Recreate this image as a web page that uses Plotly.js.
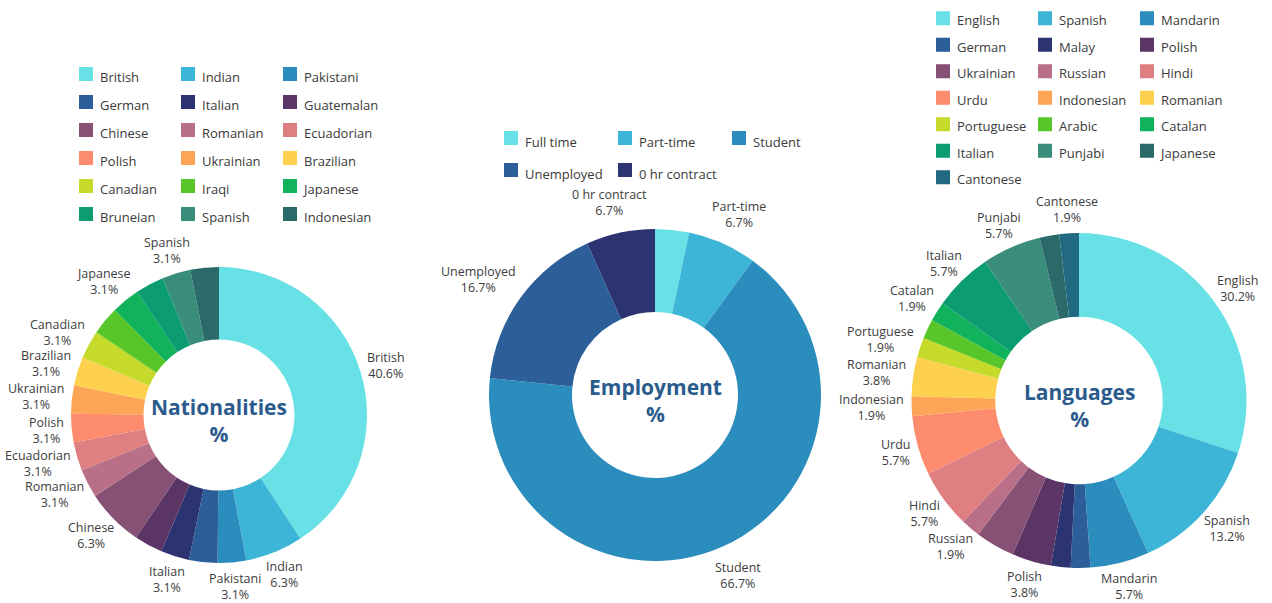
<!DOCTYPE html>
<html><head><meta charset="utf-8">
<script src="https://cdn.plot.ly/plotly-3.0.1.min.js"></script>
<style>
html,body{margin:0;padding:0;background:#fff;overflow:hidden;width:1272px;height:603px;}
.chart{position:absolute;top:0;height:603px;}
.legendpie{transform:translate(26px,0px) scale(1.17);}
</style></head><body>
<div id="nat" class="chart"></div>
<div id="emp" class="chart"></div>
<div id="lang" class="chart"></div>
<script>
// ---- data ----
const natLabels = ['British','Indian','Pakistani','German','Italian','Guatemalan','Chinese','Romanian','Ecuadorian','Polish','Ukrainian','Brazilian','Canadian','Iraqi','Japanese','Bruneian','Spanish','Indonesian'];
const natValues = [40.6,6.3,3.1,3.1,3.1,3.1,6.3,3.1,3.1,3.1,3.1,3.1,3.1,3.1,3.1,3.1,3.1,3.1];
const natUnlabelled = ['German','Guatemalan','Iraqi','Bruneian','Indonesian'];

const empLabels = ['Full time','Part-time','Student','Unemployed','0 hr contract'];
const empValues = [3.3,6.7,66.7,16.7,6.7];
const empUnlabelled = ['Full time'];

const langLabels = ['English','Spanish','Mandarin','German','Malay','Polish','Ukrainian','Russian','Hindi','Urdu','Indonesian','Romanian','Portuguese','Arabic','Catalan','Italian','Punjabi','Japanese','Cantonese'];
const langValues = [30.2,13.2,5.7,1.9,1.9,3.8,3.8,1.9,5.7,5.7,1.9,3.8,1.9,1.9,1.9,5.7,5.7,1.9,1.9];
const langUnlabelled = ['German','Malay','Ukrainian','Arabic','Japanese'];

const palette = ['#68E1E6','#3CB5D6','#2B8DBD','#2C5F9A','#2B3470','#5B3566','#875075','#B86F87','#E07F81','#FD8C6E','#FDA557','#FDD04D','#C5DA2B','#58C629','#10B25B','#0C9C72','#3A8C7B','#2A6B6A','#226A82'];

// ---- drawing ----
const H = 603;
const FONT = '"Open Sans", sans-serif';
const LABEL_SIZE = 12.5;
const LABEL_COLOR = '#3d3d3d';
const TITLE_COLOR = '#2b5b8c';
const ctx = document.createElement('canvas').getContext('2d');
function textWidth(s) { ctx.font = LABEL_SIZE + 'px "Open Sans"'; return ctx.measureText(s).width; }

// outside labels placed along each slice's mid-angle, using the geometry Plotly computed
function addLabels(gd, title, labels, values, unlabelled, gap) {
  const cd = gd.calcdata[0];
  const cd0 = cd[0];
  const gs = gd._fullLayout._size;
  const r = cd0.r;
  const hh = LABEL_SIZE * 1.3;
  const toX = px => (px - gs.l) / gs.w;
  const toY = py => 1 - (py - gs.t) / gs.h;
  const anns = [{
    xref: 'paper', yref: 'paper', x: toX(cd0.cx), y: toY(cd0.cy + 5),
    xanchor: 'center', yanchor: 'middle', showarrow: false, align: 'center',
    text: '<b>' + title + '<br>%</b>',
    font: {family: FONT, size: 21, color: TITLE_COLOR}
  }];
  cd.forEach((pt, k) => {
    const i = (pt.i !== undefined) ? pt.i : k;
    const name = labels[i];
    if (unlabelled.includes(name) || !pt.pxmid) return;
    const pct = values[i].toFixed(1) + '%';
    const ux = pt.pxmid[0] / r, uy = pt.pxmid[1] / r;
    const hw = Math.max(textWidth(name), textWidth(pct)) / 2;
    const px = cd0.cx + ux * (r + gap) + hw * ux;
    const py = cd0.cy + uy * (r + gap) + hh * uy;
    anns.push({
      xref: 'paper', yref: 'paper', x: toX(px), y: toY(py),
      xanchor: 'center', yanchor: 'middle', showarrow: false, align: 'center',
      text: name + '<br>' + pct,
      font: {family: FONT, size: LABEL_SIZE, color: LABEL_COLOR}
    });
  });
  return Plotly.relayout(gd, {annotations: anns});
}

function draw(id, title, labels, values, unlabelled, geo) {
  const m = 150;
  const left = geo.cx - geo.legendW / 2 - m;
  const div = document.getElementById(id);
  div.style.left = left + 'px';
  div.style.width = (geo.legendW + 2 * m) + 'px';
  const half = geo.r / geo.legendW;
  const legFont = (geo.rowH - 3) / 1.3;
  const trace = {
    type: 'pie', hole: geo.hole, sort: false, direction: 'clockwise', rotation: 0,
    labels: labels.map(l => '<span style="font-size:13px">' + l + '</span>'),
    values: values,
    textinfo: 'none',
    marker: {colors: palette.slice(0, labels.length), line: {width: 0}},
    domain: {x: [0.5 - half, 0.5 + half], y: [1 - (geo.cy + geo.r) / H, 1 - (geo.cy - geo.r) / H]},
    showlegend: true, hoverinfo: 'none'
  };
  const layout = {
    width: geo.legendW + 2 * m, height: H,
    margin: {l: m, r: m, t: 0, b: 0, autoexpand: false},
    paper_bgcolor: 'rgba(0,0,0,0)', plot_bgcolor: 'rgba(0,0,0,0)',
    font: {family: FONT, color: '#3a3a3a'},
    showlegend: true,
    legend: {
      orientation: 'h', x: 0.5 + geo.legShift / geo.legendW, xanchor: 'center', y: 1 - geo.legTop / H, yanchor: 'top',
      font: {family: FONT, size: legFont, color: '#3a3a3a'},
      entrywidth: geo.entryW, indentation: -15, bgcolor: 'rgba(0,0,0,0)', borderwidth: 0
    }
  };
  return Plotly.newPlot(div, [trace], layout, {staticPlot: true, displayModeBar: false})
    .then(gd => addLabels(gd, title, labels, values, unlabelled, geo.gap));
}

draw('nat', 'Nationalities', natLabels, natValues, natUnlabelled,
  {cx: 219, cy: 415, r: 148, hole: 0.51, legendW: 330, rowH: 28, legTop: 55, entryW: 72, legShift: 9, gap: 8});
draw('emp', 'Employment', empLabels, empValues, empUnlabelled,
  {cx: 655, cy: 395, r: 166, hole: 0.5, legendW: 380, rowH: 32, legTop: 117, entryW: 84, legShift: 16, gap: 15});
draw('lang', 'Languages', langLabels, langValues, langUnlabelled,
  {cx: 1078.5, cy: 400.5, r: 167.5, hole: 0.5, legendW: 360, rowH: 26.5, legTop: 0, entryW: 72, legShift: 6, gap: 8});
</script>
</body></html>
